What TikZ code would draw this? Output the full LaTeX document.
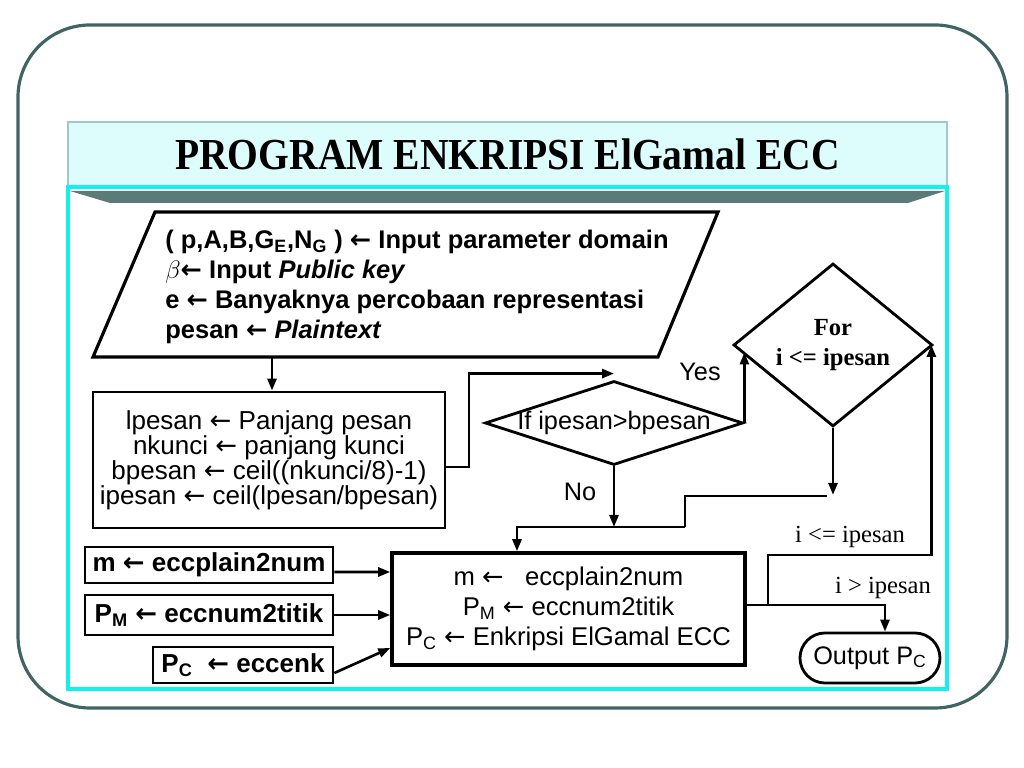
\documentclass[tikz,border=0pt]{standalone}
\usepackage{fontspec}
\setmainfont{Liberation Serif}
\setsansfont{Liberation Sans}
\newfontfamily\arrowfont{DejaVu Sans}
\newcommand{\lar}{{\arrowfont ←}}
\usepackage{graphicx}
\definecolor{framegray}{RGB}{64,100,100}
\definecolor{titlecyan}{RGB}{221,253,253}
\definecolor{titleedge}{RGB}{160,200,200}
\definecolor{panelcyan}{RGB}{20,240,240}
\definecolor{bandgray}{RGB}{90,123,120}
\usetikzlibrary{shapes.geometric, arrows.meta, positioning, calc}

\begin{document}
\begin{tikzpicture}[
  arr/.style={line width=1.5pt, -{Triangle[length=2.4mm, width=1.8mm]}},
  conn/.style={line width=1.5pt},
  procbox/.style={draw, line width=1.6pt, inner sep=0pt, align=center,
    font=\sffamily\fontsize{14.6}{17}\selectfont},
  subbox/.style={draw, line width=1.6pt, inner sep=0pt,
    font=\sffamily\bfseries\fontsize{14.8}{17}\selectfont},
  decision/.style={diamond, draw, line width=1.6pt, inner sep=0pt},
  lbl/.style={font=\sffamily\fontsize{14.4}{17}\selectfont},
  seriflbl/.style={font=\fontsize{14}{17}\selectfont}
]
  \useasboundingbox (0,0) rectangle (20.48,15.36);

  % slide frame and title
  \draw[framegray, line width=1.8pt, rounded corners=1.44cm] (0.36,1.2) rectangle (20.14,14.86);
  \node[draw=titleedge, fill=titlecyan, line width=0.6pt, minimum width=17.58cm, minimum height=1.3cm,
        inner sep=0pt, font=\bfseries\fontsize{22.5}{26}\selectfont] (title) at (10.15,12.27)
        {\scalebox{1}[1.12]{PROGRAM ENKRIPSI ElGamal ECC}};
  \draw[panelcyan, line width=1.8pt] (1.36,1.58) rectangle (18.94,11.62);
  \fill[bandgray] (1.4,11.54) -- (18.9,11.54) -- (18.16,11.3) -- (2.2,11.3) -- cycle;

  % input parallelogram
  \draw[line width=1.8pt] (3.1,11.12) -- (14.36,11.12) -- (13.16,8.22) -- (1.86,8.22) -- cycle;
  \node[anchor=west, align=left, inner sep=0pt, font=\sffamily\bfseries\fontsize{14.5}{17}\selectfont]
    (input) at (3.3,9.62)
    {( p,A,B,G\textsubscript{E},N\textsubscript{G} ) \lar\ Input parameter domain\\
     $\beta$\lar\ Input \textit{Public key}\\
     e \lar\ Banyaknya percobaan representasi\\
     pesan \lar\ \textit{Plaintext}};
  \coordinate (inbot) at (5.44,8.22);

  % initialisation
  \node[procbox, font=\sffamily\fontsize{14.8}{14.2}\selectfont, minimum width=7.04cm, minimum height=2.72cm]
    (init) at (5.38,6.16)
    {lpesan \lar\ Panjang pesan\\ nkunci \lar\ panjang kunci\\ bpesan \lar\ ceil((nkunci/8)-1)\\ ipesan \lar\ ceil(lpesan/bpesan)};
  \draw[arr] (inbot) -- (inbot |- init.north);

  % decisions
  \node[decision, minimum width=5.16cm, minimum height=1.68cm,
        label={[lbl]center:If ipesan>bpesan}] (ifd) at (12.28,6.9) {};
  \node[decision, minimum width=3.98cm, minimum height=3.26cm,
        label={[font=\bfseries\fontsize{14}{17}\selectfont, align=center]center:For\\i <= ipesan}] (ford) at (16.66,8.46) {};
  \node[lbl] (yes) at (14.0,7.92) {Yes};
  \node[lbl] (no) at (11.6,5.52) {No};

  \draw[arr] ($(init.east)+(0,-0.14)$) -- ++(0.45,0) |- ($(ifd.north)+(0,0.12)$);
  \draw[arr, shorten >=0.15cm] (ifd.east) -- (ifd.east |- ford.west);
  \draw[arr] (ford.south) -- ++(0,-1.34);

  % encryption step
  \node[procbox, line width=2pt, minimum width=7.06cm, minimum height=2.24cm] (main) at (11.37,3.18)
    {m \lar\ \ \ eccplain2num\\ P\textsubscript{M} \lar\ eccnum2titik\\ P\textsubscript{C} \lar\ Enkripsi ElGamal ECC};

  \coordinate (loopin) at (16.54,5.44);
  \coordinate (merge) at (13.7,4.82);
  \draw[conn] (loopin) -| (merge);
  \draw[arr] (merge) -| ($(main.north)+(-1.03,0)$);
  \draw[arr] (ifd.south) -- (ifd.south |- merge);

  % sub programs
  \node[subbox, minimum width=4.96cm, minimum height=0.72cm] (mbox) at (4.18,4.06) {m \lar\ eccplain2num};
  \node[subbox, minimum width=4.96cm, minimum height=0.8cm] (pmbox) at (4.18,3.06) {P\textsubscript{M} \lar\ eccnum2titik};
  \node[subbox, minimum width=3.6cm, minimum height=0.72cm] (pcbox) at (4.86,2.06) {P\textsubscript{C}\ \ \lar\ eccenk};
  \draw[arr] ($(mbox.east)+(0,-0.14)$) -- ($(main.west)+(0,0.74)$);
  \draw[arr] (pmbox.east) -- (pmbox.east -| main.west);
  \draw[arr] ($(pcbox.east)+(0,-0.16)$) -- ($(main.west)+(0,-0.78)$);

  % output and loop back
  \node[draw, rounded corners=0.5cm, line width=1.6pt, minimum width=2.8cm, minimum height=1.0cm,
        inner sep=0pt, lbl] (output) at (17.4,2.2) {Output P\textsubscript{C}};
  \coordinate (split) at (15.36,3.26);
  \draw[arr] ($(main.east)+(0,0.08)$) -| ($(output.north)+(0.3,0)$);
  \draw[arr] (split) |- ($(ford.east)+(-0.05,-4.2)$) -- ($(ford.east)+(-0.05,0)$);
  \node[seriflbl] (le) at (17.0,4.62) {i <= ipesan};
  \node[seriflbl] (gt) at (17.66,3.6) {i > ipesan};
\end{tikzpicture}
\end{document}
